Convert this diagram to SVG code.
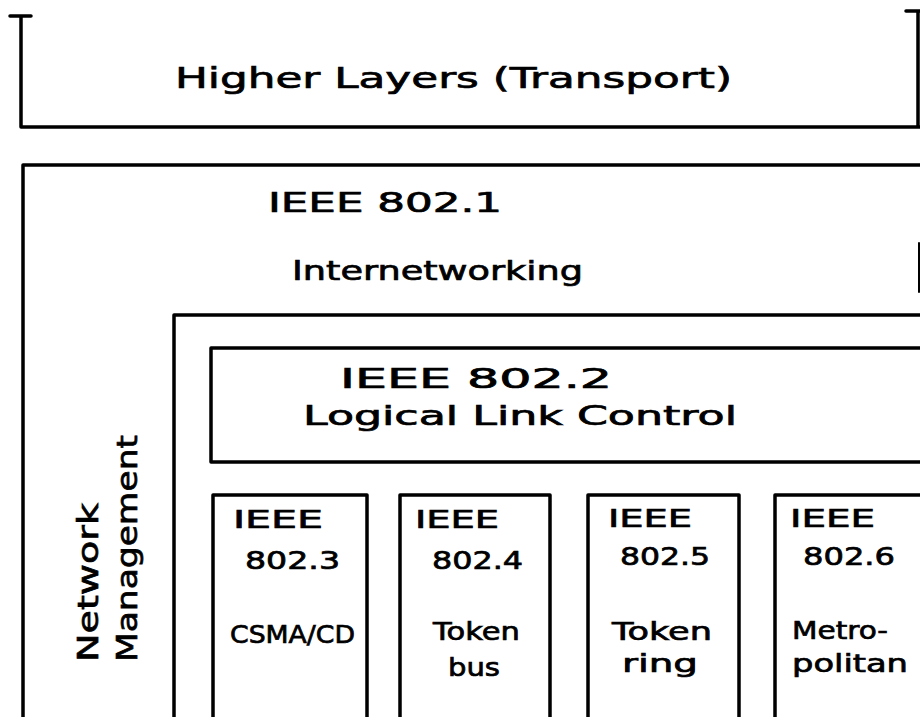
<svg xmlns="http://www.w3.org/2000/svg" width="920" height="717" viewBox="0 0 920 717">
<style>
.ln{fill:none;stroke:#000;stroke-width:3.5;stroke-linecap:round;stroke-linejoin:round}
.tx{font-family:"DejaVu Sans","Liberation Sans",sans-serif;fill:#000;stroke:#000;stroke-width:0.7}
.big{font-size:29px}
.mid{font-size:27px}
.sm{font-size:25px}
</style>
<rect width="920" height="717" fill="#fff"/>
<g id="higher-layers">
<path class="ln" d="M10,16 L31,16 M21,16 L21,127 L920,127 M906,11 L920,11 M918,11 L918,127"/>
<text class="tx big" x="175" y="88" textLength="557" lengthAdjust="spacingAndGlyphs">Higher  Layers  (Transport)</text>
</g>
<g id="ieee-802-1">
<path class="ln" d="M920,165 L23,165 L23,717"/>
<path class="ln" d="M919,243 L919,292" style="stroke-width:2"/>
<text class="tx mid" x="268" y="212" textLength="234" lengthAdjust="spacingAndGlyphs">IEEE  802.1</text>
<text class="tx mid" x="292" y="280" textLength="291" lengthAdjust="spacingAndGlyphs">Internetworking</text>
</g>
<g id="network-management">
<text class="tx big" transform="translate(98,662) rotate(-90)" textLength="159" lengthAdjust="spacingAndGlyphs">Network</text>
<text class="tx big" transform="translate(137,662) rotate(-90)" textLength="227" lengthAdjust="spacingAndGlyphs">Management</text>
</g>
<g id="ieee-802-mac">
<path class="ln" d="M920,315 L174,315 L174,717"/>
</g>
<g id="ieee-802-2">
<path class="ln" d="M920,348 L211,348 L211,462 L920,462"/>
<text class="tx mid" x="340" y="388" textLength="272" lengthAdjust="spacingAndGlyphs">IEEE  802.2</text>
<text class="tx mid" x="303" y="425" textLength="434" lengthAdjust="spacingAndGlyphs">Logical  Link  Control</text>
</g>
<g id="ieee-802-3">
<path class="ln" d="M213,717 L213,495 L367,495 L367,717"/>
<text class="tx sm" x="233" y="528" textLength="90" lengthAdjust="spacingAndGlyphs">IEEE</text>
<text class="tx sm" x="245" y="569" textLength="95" lengthAdjust="spacingAndGlyphs">802.3</text>
<text class="tx sm" x="230" y="643" textLength="125" lengthAdjust="spacingAndGlyphs">CSMA/CD</text>
</g>
<g id="ieee-802-4">
<path class="ln" d="M400,717 L400,495 L550,495 L550,717"/>
<text class="tx sm" x="415" y="528" textLength="84" lengthAdjust="spacingAndGlyphs">IEEE</text>
<text class="tx sm" x="432" y="569" textLength="91" lengthAdjust="spacingAndGlyphs">802.4</text>
<text class="tx sm" x="433" y="640" textLength="87" lengthAdjust="spacingAndGlyphs">Token</text>
<text class="tx sm" x="448" y="676" textLength="52" lengthAdjust="spacingAndGlyphs">bus</text>
</g>
<g id="ieee-802-5">
<path class="ln" d="M588,717 L588,495 L739,495 L739,717"/>
<text class="tx sm" x="608" y="527" textLength="84" lengthAdjust="spacingAndGlyphs">IEEE</text>
<text class="tx sm" x="620" y="565" textLength="90" lengthAdjust="spacingAndGlyphs">802.5</text>
<text class="tx sm" x="612" y="640" textLength="100" lengthAdjust="spacingAndGlyphs">Token</text>
<text class="tx sm" x="622" y="672" textLength="76" lengthAdjust="spacingAndGlyphs">ring</text>
</g>
<g id="ieee-802-6">
<path class="ln" d="M775,717 L775,495 L920,495"/>
<text class="tx sm" x="790" y="527" textLength="85" lengthAdjust="spacingAndGlyphs">IEEE</text>
<text class="tx sm" x="803" y="565" textLength="92" lengthAdjust="spacingAndGlyphs">802.6</text>
<text class="tx sm" x="792" y="639" textLength="96" lengthAdjust="spacingAndGlyphs">Metro-</text>
<text class="tx sm" x="792" y="672" textLength="116" lengthAdjust="spacingAndGlyphs">politan</text>
</g>
<g id="connectors"/>
</svg>
